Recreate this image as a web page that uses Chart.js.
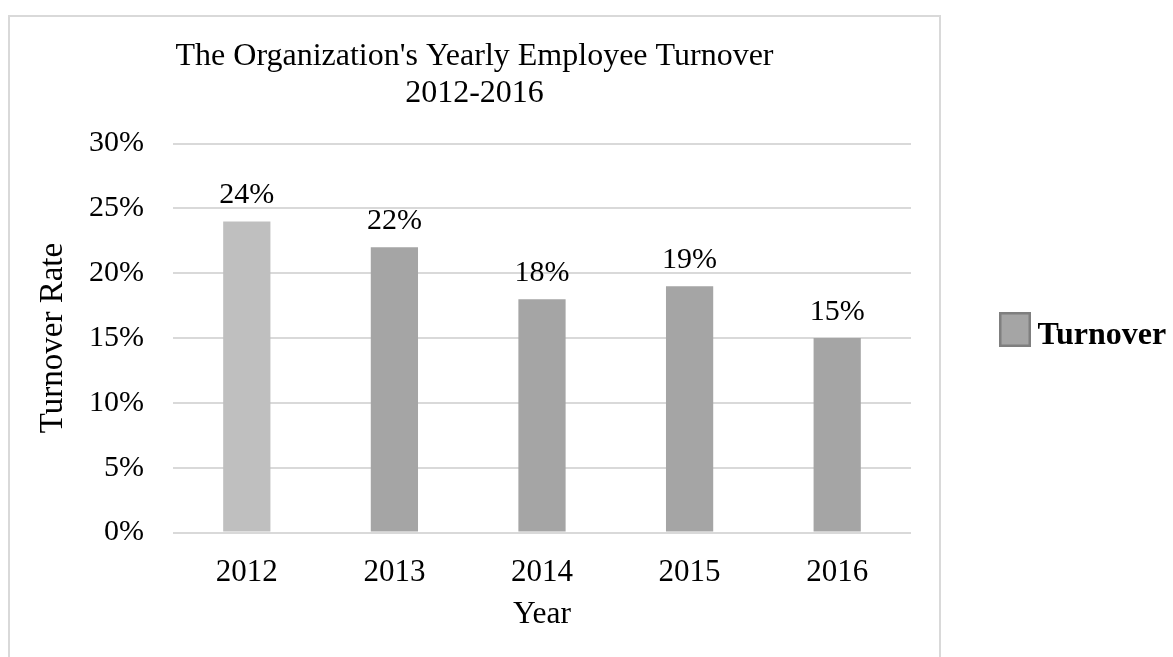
<!DOCTYPE html>
<html>
<head>
<meta charset="utf-8">
<script src="https://cdn.jsdelivr.net/npm/chart.js@4.4.0/dist/chart.umd.min.js"></script>
<style>
  html, body { margin: 0; padding: 0; background: #ffffff; }
  #wrap { width: 1173px; height: 657px; }
</style>
</head>
<body>
<div id="wrap"><canvas id="c" width="1173" height="657"></canvas></div>
<script>
// ---- data ----
const categories = ['2012', '2013', '2014', '2015', '2016'];
const turnoverValues = [24, 22, 18, 19, 15];
const yTickValues = [0, 5, 10, 15, 20, 25, 30];
const seriesName = 'Turnover';
const chartTitle = ["The Organization's Yearly Employee Turnover", '2012-2016'];
const xAxisTitle = 'Year';
const yAxisTitle = 'Turnover Rate';

// ---- styles ----
const barColors = ['#bfbfbf', '#a5a5a5', '#a5a5a5', '#a5a5a5', '#a5a5a5'];
const FONT = "'Liberation Serif', 'Times New Roman', serif";

const framePlugin = {
  id: 'frame',
  beforeDraw(chart) {
    const ctx = chart.ctx;
    ctx.save();
    ctx.fillStyle = '#ffffff';
    ctx.fillRect(0, 0, chart.width, chart.height);
    ctx.strokeStyle = '#d9d9d9';
    ctx.lineWidth = 2;
    ctx.strokeRect(9, 16, 931, 700);
    ctx.restore();
  }
};

const dataLabelPlugin = {
  id: 'dataLabels',
  afterDatasetsDraw(chart) {
    const ctx = chart.ctx;
    const meta = chart.getDatasetMeta(0);
    ctx.save();
    ctx.font = '30px ' + FONT;
    ctx.fillStyle = '#000000';
    ctx.textAlign = 'center';
    ctx.textBaseline = 'alphabetic';
    meta.data.forEach((bar, i) => {
      ctx.fillText(turnoverValues[i] + '%', bar.x, bar.y - 18);
    });
    ctx.restore();
  }
};

const legendPlugin = {
  id: 'customLegend',
  afterDraw(chart) {
    const ctx = chart.ctx;
    ctx.save();
    ctx.fillStyle = barColors[1];
    ctx.fillRect(999, 312, 32, 35);
    ctx.strokeStyle = '#7f7f7f';
    ctx.lineWidth = 2.5;
    ctx.strokeRect(1000.25, 313.25, 29.5, 32.5);
    ctx.font = 'bold 32px ' + FONT;
    ctx.fillStyle = '#000000';
    ctx.textAlign = 'left';
    ctx.textBaseline = 'alphabetic';
    ctx.fillText(seriesName, 1037.5, 343.5);
    ctx.restore();
  }
};

new Chart(document.getElementById('c'), {
  type: 'bar',
  data: {
    labels: categories,
    datasets: [{
      label: seriesName,
      data: turnoverValues,
      backgroundColor: barColors,
      borderWidth: 0,
      categoryPercentage: 1.0,
      barPercentage: 0.32
    }]
  },
  options: {
    responsive: false,
    animation: false,
    devicePixelRatio: 1,
    layout: { padding: { left: 38, right: 262, top: 20, bottom: 0 } },
    plugins: {
      legend: { display: false },
      tooltip: { enabled: false },
      title: {
        display: true,
        text: chartTitle,
        color: '#000000',
        font: { family: FONT, size: 32, weight: 'normal', lineHeight: 1.15 },
        padding: { top: 18, bottom: 32 }
      }
    },
    scales: {
      x: {
        grid: { display: false, drawTicks: false },
        border: { display: false },
        ticks: { color: '#000000', font: { family: FONT, size: 31 }, padding: 22, maxRotation: 0 },
        title: { display: true, text: xAxisTitle, color: '#000000', font: { family: FONT, size: 31.5, lineHeight: 1.2 }, padding: { top: 0, bottom: 23 } },
        afterFit(scale) { scale.height = 657 - 532.5; }
      },
      y: {
        min: 0,
        max: 30,
        grid: { color: '#d9d9d9', lineWidth: 2, drawTicks: false },
        border: { display: false },
        afterBuildTicks(scale) { scale.ticks = yTickValues.map(v => ({ value: v })); },
        ticks: { color: '#000000', font: { family: FONT, size: 30 }, padding: 29, callback: v => v + '%' },
        title: { display: true, text: yAxisTitle, color: '#000000', font: { family: FONT, size: 33, lineHeight: 0.95 }, padding: 0 },
        afterFit(scale) { scale.width = 173 - 38; }
      }
    }
  },
  plugins: [framePlugin, dataLabelPlugin, legendPlugin]
});
</script>
</body>
</html>
